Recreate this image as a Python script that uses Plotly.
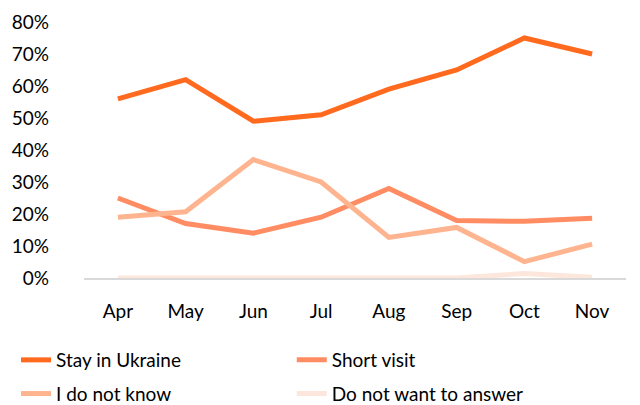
import plotly.graph_objects as go

months = ["Apr", "May", "Jun", "Jul", "Aug", "Sep", "Oct", "Nov"]
stay_in_ukraine = [0.56, 0.62, 0.49, 0.51, 0.59, 0.65, 0.75, 0.70]
short_visit = [0.25, 0.17, 0.14, 0.19, 0.28, 0.18, 0.177, 0.187]
do_not_know = [0.19, 0.207, 0.37, 0.30, 0.127, 0.158, 0.051, 0.106]
no_answer = [0.0, 0.0, 0.0, 0.0, 0.0, 0.0, 0.014, 0.002]

series = [
    ("Stay in Ukraine", stay_in_ukraine, "#FF6A1F", "legend"),
    ("Short visit", short_visit, "#FF8C62", "legend2"),
    ("I do not know", do_not_know, "#FFB490", "legend"),
    ("Do not want to answer", no_answer, "#FDE7DD", "legend2"),
]

fig = go.Figure()
for name, vals, color, leg in series:
    fig.add_trace(go.Scatter(
        x=months, y=vals, name=name, mode="lines", legend=leg,
        legendgroup=name,
        line=dict(color=color, width=5), cliponaxis=False,
    ))

font = "Lato, 'Gill Sans', 'Open Sans', sans-serif"
legend_common = dict(
    orientation="v", xref="container", yref="container",
    xanchor="left", yanchor="top", y=0.1612,
    font=dict(size=19), tracegroupgap=6, bgcolor="rgba(0,0,0,0)",
)
fig.update_layout(
    width=632, height=397,
    margin=dict(l=76, r=14, t=14, b=127, autoexpand=False),
    paper_bgcolor="white", plot_bgcolor="white",
    font=dict(family=font, size=19, color="black"),
    showlegend=True,
    legend=dict(x=0.0127, **legend_common),
    legend2=dict(x=0.449, **legend_common),
    xaxis=dict(
        type="category", range=[-0.5, 7.5], showgrid=False,
        showline=True, linecolor="#D9D9D9", linewidth=1.5,
        ticks="", tickfont=dict(size=19),
        ticklabelstandoff=15,
    ),
    yaxis=dict(
        range=[0, 0.8], dtick=0.1, tickformat=".0%",
        showgrid=False, zeroline=False, showline=False,
        ticks="", tickfont=dict(size=19), ticklabelstandoff=34,
    ),
)

fig.write_html("out.html")
